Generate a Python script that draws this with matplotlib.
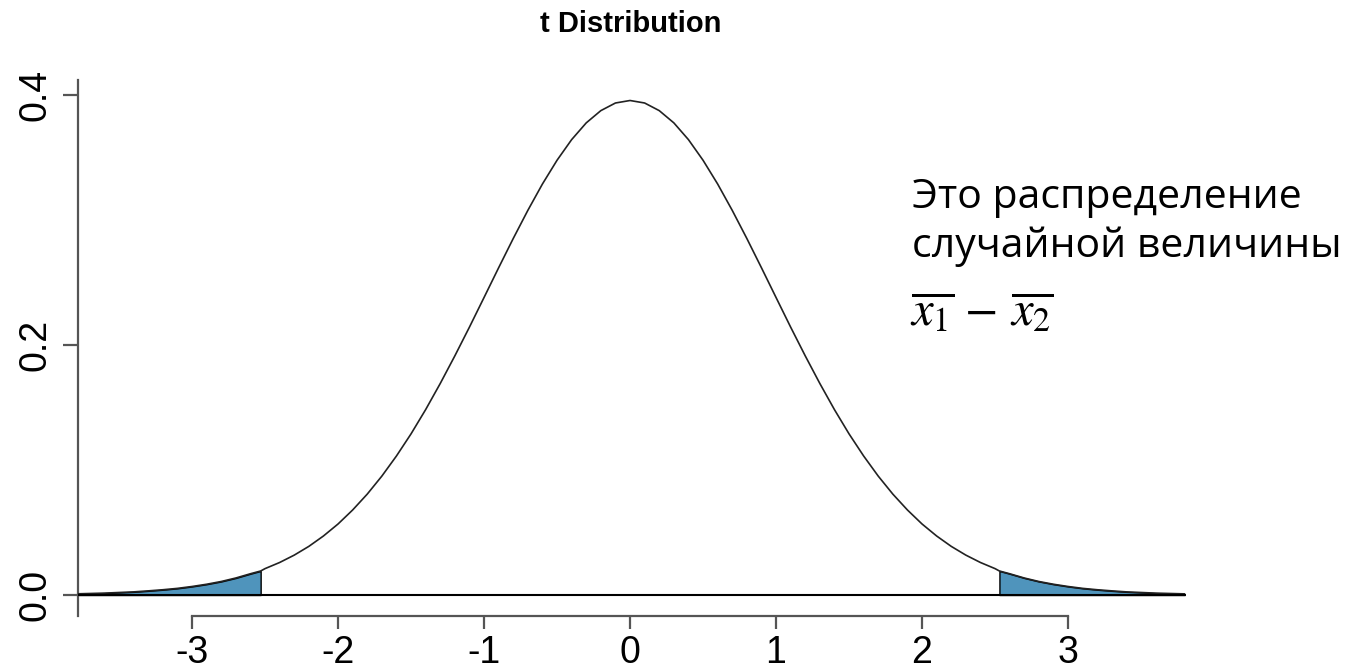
import matplotlib.pyplot as plt

# t density (x in t units, y = density)
xs = [-3.8, -3.7, -3.6, -3.5, -3.4, -3.3, -3.2, -3.1, -3.0, -2.9, -2.8, -2.7, -2.6, -2.53,
      -2.5, -2.4, -2.3, -2.2, -2.1, -2.0, -1.9, -1.8, -1.7, -1.6, -1.5, -1.4, -1.3, -1.2,
      -1.1, -1.0, -0.9, -0.8, -0.7, -0.6, -0.5, -0.4, -0.3, -0.2, -0.1, 0.0,
      0.1, 0.2, 0.3, 0.4, 0.5, 0.6, 0.7, 0.8, 0.9, 1.0, 1.1, 1.2, 1.3, 1.4, 1.5, 1.6,
      1.7, 1.8, 1.9, 2.0, 2.1, 2.2, 2.3, 2.4, 2.5, 2.53, 2.6, 2.7, 2.8, 2.9, 3.0, 3.1,
      3.2, 3.3, 3.4, 3.5, 3.6, 3.7, 3.8]
dens = [0.0009, 0.0012, 0.0015, 0.0020, 0.0025, 0.0033, 0.0042, 0.0053, 0.0068, 0.0086,
        0.0108, 0.0136, 0.0170, 0.0192,
        0.0211, 0.0260, 0.0319, 0.0389, 0.0472, 0.0568, 0.0680, 0.0807, 0.0951, 0.1112,
        0.1289, 0.1483, 0.1692, 0.1913, 0.2143, 0.2380, 0.2618, 0.2852, 0.3077, 0.3288,
        0.3478, 0.3643, 0.3777, 0.3875, 0.3936, 0.3956,
        0.3936, 0.3875, 0.3777, 0.3643, 0.3478, 0.3288, 0.3077, 0.2852, 0.2618, 0.2380,
        0.2143, 0.1913, 0.1692, 0.1483, 0.1289, 0.1112, 0.0951, 0.0807, 0.0680, 0.0568,
        0.0472, 0.0389, 0.0319, 0.0260, 0.0211, 0.0192, 0.0170, 0.0136, 0.0108, 0.0086,
        0.0068, 0.0053, 0.0042, 0.0033, 0.0025, 0.0020, 0.0015, 0.0012, 0.0009]
t_crit = 2.53

x_ticks = [-3, -2, -1, 0, 1, 2, 3]
x_labels = ["-3", "-2", "-1", "0", "1", "2", "3"]
y_ticks = [0.0, 0.2, 0.4]
y_labels = ["0.0", "0.2", "0.4"]

title = "t Distribution"
note_lines = ["Это распределение", "случайной величины"]
note_math = r"$\overline{x_1}\,-\,\overline{x_2}$"

W, H = 1351, 671
fig = plt.figure(figsize=(W / 100, H / 100), dpi=100)
ax = fig.add_axes([78 / W, 55 / H, (1185 - 78) / W, (616 - 80) / H])

shade = "#4F94BC"
left = [i for i, v in enumerate(xs) if v <= -t_crit]
right = [i for i, v in enumerate(xs) if v >= t_crit]
for idx in (left, right):
    ax.fill_between([xs[i] for i in idx], 0, [dens[i] for i in idx],
                    facecolor=shade, edgecolor="black", linewidth=1.0, zorder=2)

ax.plot(xs, dens, color="#222222", linewidth=1.2, zorder=3)
ax.axhline(0, color="black", linewidth=1.5, zorder=4)

ax.set_xlim(-3.781, 3.801)
ax.set_ylim(-0.0168, 0.412)

for s in ("top", "right"):
    ax.spines[s].set_visible(False)
ax.spines["bottom"].set_bounds(-3, 3)
for s in ("bottom", "left"):
    ax.spines[s].set_color("#555555")
    ax.spines[s].set_linewidth(1.6)

tick_font = {"family": "Liberation Sans", "size": 27}
ax.set_xticks(x_ticks)
ax.set_xticklabels(x_labels, fontdict=tick_font)
ax.set_yticks(y_ticks)
ax.set_yticklabels(y_labels, fontdict=tick_font, rotation=90, va="center")
ax.tick_params(axis="x", length=9.5, width=1.6, color="#555555", pad=4)
ax.tick_params(axis="y", length=10.8, width=1.6, color="#555555", pad=7)

fig.text(631 / W, 1 - 32 / H, title, ha="center", va="baseline",
         fontsize=21, fontweight="bold", family="Liberation Sans")

plt.rcParams["mathtext.fontset"] = "stix"
fig.text(912 / W, 1 - 208 / H, note_lines[0], ha="left", va="baseline",
         fontsize=29.5, family="Open Sans")
fig.text(912 / W, 1 - 257 / H, note_lines[1], ha="left", va="baseline",
         fontsize=29.5, family="Open Sans")
fig.text(910 / W, 1 - 325 / H, note_math, ha="left", va="baseline", fontsize=35)

fig.savefig("out.png", dpi=100)
